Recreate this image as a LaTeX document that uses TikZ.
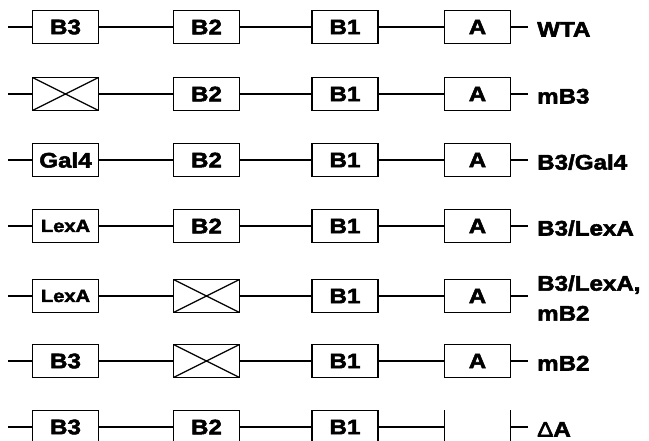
\documentclass[tikz,border=0pt]{standalone}
\usepackage{fontspec}
\usepackage{tikz}
\usetikzlibrary{positioning}
\newfontfamily\genefont[FakeStretch=1.15,FakeBold=2.5]{Liberation Sans}

\tikzset{
  genebox/.style={draw, line width=1.2pt, minimum width=66pt, minimum height=33pt, inner sep=0pt,
    font=\genefont\bfseries\fontsize{21}{24}\selectfont},
  smallbox/.style={genebox, font=\genefont\bfseries\fontsize{17.5}{20}\selectfont},
  deleted/.style={genebox, path picture={
      \draw[line width=1.2pt] (path picture bounding box.north west) -- (path picture bounding box.south east)
        (path picture bounding box.south west) -- (path picture bounding box.north east);}},
  gap/.style={minimum width=66pt, minimum height=33pt, inner sep=0pt},
  wire/.style={line width=1.1pt},
  tag/.style={anchor=west, inner sep=0pt, text height=15pt, text depth=0pt,
    font=\genefont\bfseries\fontsize{21}{30}\selectfont}
}

\begin{document}
\begin{tikzpicture}[x=1pt,y=-1pt]
\useasboundingbox (0,0) rectangle (649,441);

% WTA
\coordinate (s1) at (8,27);
\node[genebox] (b3-1) at (65.5,27) {B3};
\node[genebox] (b2-1) at (206.5,27) {B2};
\node[genebox] (b1-1) at (345,27) {B1};
\node[genebox] (a-1) at (477.5,27) {A};
\coordinate (e1) at (528,27);
\node[tag] (t1) at (537,29) {WTA};
\draw[wire] (s1) -- (b3-1) (b3-1) -- (b2-1) (b2-1) -- (b1-1) (b1-1) -- (a-1) (a-1) -- (e1);

% mB3
\coordinate (s2) at (8,94);
\node[deleted] (b3-2) at (65.5,94) {};
\node[genebox] (b2-2) at (206.5,94) {B2};
\node[genebox] (b1-2) at (345,94) {B1};
\node[genebox] (a-2) at (477.5,94) {A};
\coordinate (e2) at (528,94);
\node[tag] (t2) at (537,96) {mB3};
\draw[wire] (s2) -- (b3-2) (b3-2) -- (b2-2) (b2-2) -- (b1-2) (b1-2) -- (a-2) (a-2) -- (e2);

% B3/Gal4
\coordinate (s3) at (8,160);
\node[genebox] (b3-3) at (65.5,160) {Gal4};
\node[genebox] (b2-3) at (206.5,160) {B2};
\node[genebox] (b1-3) at (345,160) {B1};
\node[genebox] (a-3) at (477.5,160) {A};
\coordinate (e3) at (528,160);
\node[tag] (t3) at (537,162) {B3/Gal4};
\draw[wire] (s3) -- (b3-3) (b3-3) -- (b2-3) (b2-3) -- (b1-3) (b1-3) -- (a-3) (a-3) -- (e3);

% B3/LexA
\coordinate (s4) at (8,226);
\node[smallbox] (b3-4) at (65.5,226) {LexA};
\node[genebox] (b2-4) at (206.5,226) {B2};
\node[genebox] (b1-4) at (345,226) {B1};
\node[genebox] (a-4) at (477.5,226) {A};
\coordinate (e4) at (528,226);
\node[tag] (t4) at (537,228) {B3/LexA};
\draw[wire] (s4) -- (b3-4) (b3-4) -- (b2-4) (b2-4) -- (b1-4) (b1-4) -- (a-4) (a-4) -- (e4);

% B3/LexA, mB2
\coordinate (s5) at (8,296);
\node[smallbox] (b3-5) at (65.5,296) {LexA};
\node[deleted] (b2-5) at (206.5,296) {};
\node[genebox] (b1-5) at (345,296) {B1};
\node[genebox] (a-5) at (477.5,296) {A};
\coordinate (e5) at (528,296);
\node[tag, text height=, text depth=, align=left] (t5) at (537,298) {B3/LexA,\\mB2};
\draw[wire] (s5) -- (b3-5) (b3-5) -- (b2-5) (b2-5) -- (b1-5) (b1-5) -- (a-5) (a-5) -- (e5);

% mB2
\coordinate (s6) at (8,361);
\node[genebox] (b3-6) at (65.5,361) {B3};
\node[deleted] (b2-6) at (206.5,361) {};
\node[genebox] (b1-6) at (345,361) {B1};
\node[genebox] (a-6) at (477.5,361) {A};
\coordinate (e6) at (528,361);
\node[tag] (t6) at (537,363) {mB2};
\draw[wire] (s6) -- (b3-6) (b3-6) -- (b2-6) (b2-6) -- (b1-6) (b1-6) -- (a-6) (a-6) -- (e6);

% delta A
\coordinate (s7) at (8,427);
\node[genebox] (b3-7) at (65.5,427) {B3};
\node[genebox] (b2-7) at (206.5,427) {B2};
\node[genebox] (b1-7) at (345,427) {B1};
\node[gap] (a-7) at (477.5,427) {};
\coordinate (e7) at (528,427);
\node[tag] (t7) at (537,429) {{\mdseries Δ}A};
\draw[line width=1.2pt] (a-7.north west) -- (a-7.south west) (a-7.north east) -- (a-7.south east);
\draw[wire] (s7) -- (b3-7) (b3-7) -- (b2-7) (b2-7) -- (b1-7) (b1-7) -- (a-7) (a-7) -- (e7);
\end{tikzpicture}
\end{document}
